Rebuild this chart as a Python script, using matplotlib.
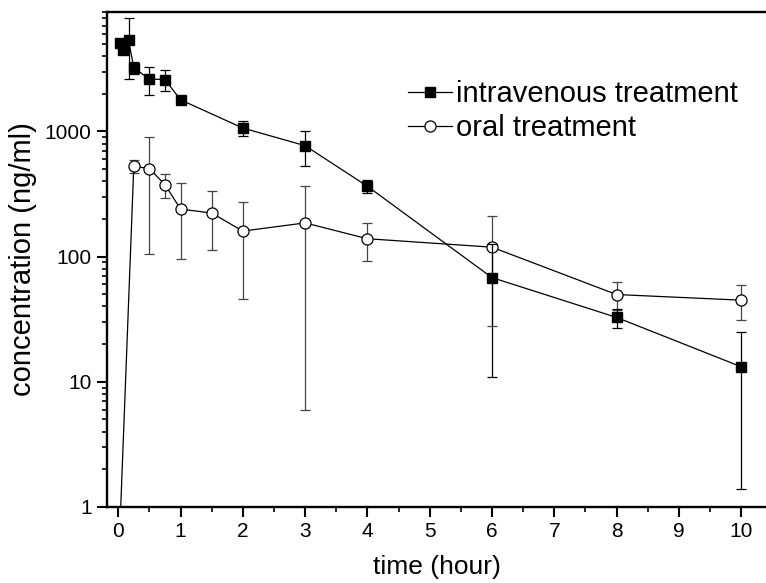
import matplotlib
matplotlib.use("Agg")
import matplotlib.pyplot as plt
from matplotlib.lines import Line2D
from matplotlib.ticker import LogLocator, NullFormatter, FixedLocator, MultipleLocator

plt.rcParams['font.family'] = ['Liberation Sans', 'DejaVu Sans']

# intravenous treatment (h, ng/ml)
iv_time = [0.033, 0.083, 0.167, 0.25, 0.5, 0.75, 1, 2, 3, 4, 6, 8, 10]
iv_conc = [5070, 4500, 5330, 3230, 2620, 2600, 1790, 1065, 770, 365, 68, 32.7, 13.2]
iv_sd = [300, 300, 2700, 370, 650, 510, 145, 150, 240, 45, 57, 5.7, 11.8]

# oral treatment, first point is below the axis (line comes up from the bottom)
oral_time = [0, 0.25, 0.5, 0.75, 1, 1.5, 2, 3, 4, 6, 8, 10]
oral_conc = [0.3, 527, 505, 376, 240, 223, 160, 186, 139, 119, 49.8, 44.9]
oral_sd = [0, 64, 400, 82, 145, 110, 114, 180, 46, 91, 12.5, 14]

fig = plt.figure(figsize=(7.66, 5.83), dpi=100)
ax = fig.add_axes([0.1397, 0.1304, 0.8603, 0.849])

ax.errorbar(oral_time, oral_conc, yerr=oral_sd, color='black', lw=0.9,
            marker='o', ms=8, mfc='white', mec='black', mew=0.9,
            ecolor='#444444', elinewidth=0.9, capsize=3.6, capthick=0.9,
            zorder=2)
ax.errorbar(iv_time, iv_conc, yerr=iv_sd, color='black', lw=0.9,
            marker='s', ms=7, mfc='black', mec='black',
            ecolor='black', elinewidth=0.9, capsize=3.6, capthick=0.9,
            zorder=3)

ax.set_yscale('log')
ax.set_ylim(1, 9000)
ax.set_xlim(-0.18, 10.4)

ax.xaxis.set_major_locator(MultipleLocator(1))
ax.xaxis.set_minor_locator(MultipleLocator(0.5))
ax.yaxis.set_major_locator(FixedLocator([1, 10, 100, 1000]))
ax.yaxis.set_minor_locator(LogLocator(base=10, subs=range(2, 10)))
ax.yaxis.set_minor_formatter(NullFormatter())
ax.set_yticklabels(['1', '10', '100', '1000'])

ax.tick_params(axis='both', which='major', direction='out', length=7, width=1.5,
               labelsize=15, pad=4)
ax.tick_params(axis='both', which='minor', direction='out', length=3.5, width=1.2)
ax.tick_params(top=False, right=False)

for s in ['left', 'bottom', 'top']:
    ax.spines[s].set_linewidth(1.7)
ax.spines['right'].set_visible(False)

ax.set_xlabel('time (hour)', fontsize=19, labelpad=10)
ax.set_ylabel('concentration (ng/ml)', fontsize=21, labelpad=6)

handles = [
    Line2D([], [], color='black', lw=0.9, marker='s', ms=7, mfc='black'),
    Line2D([], [], color='black', lw=0.9, marker='o', ms=8, mfc='white', mew=0.9),
]
labels = ['intravenous treatment', 'oral treatment']
fig.legend(handles, labels, loc='upper left',
           bbox_to_anchor=(408 / 766, 1 - 80 / 583), frameon=False,
           fontsize=21, handlelength=1.5, handletextpad=0.15,
           labelspacing=0.2, borderpad=0, borderaxespad=0)

fig.savefig('out.png', dpi=100)
